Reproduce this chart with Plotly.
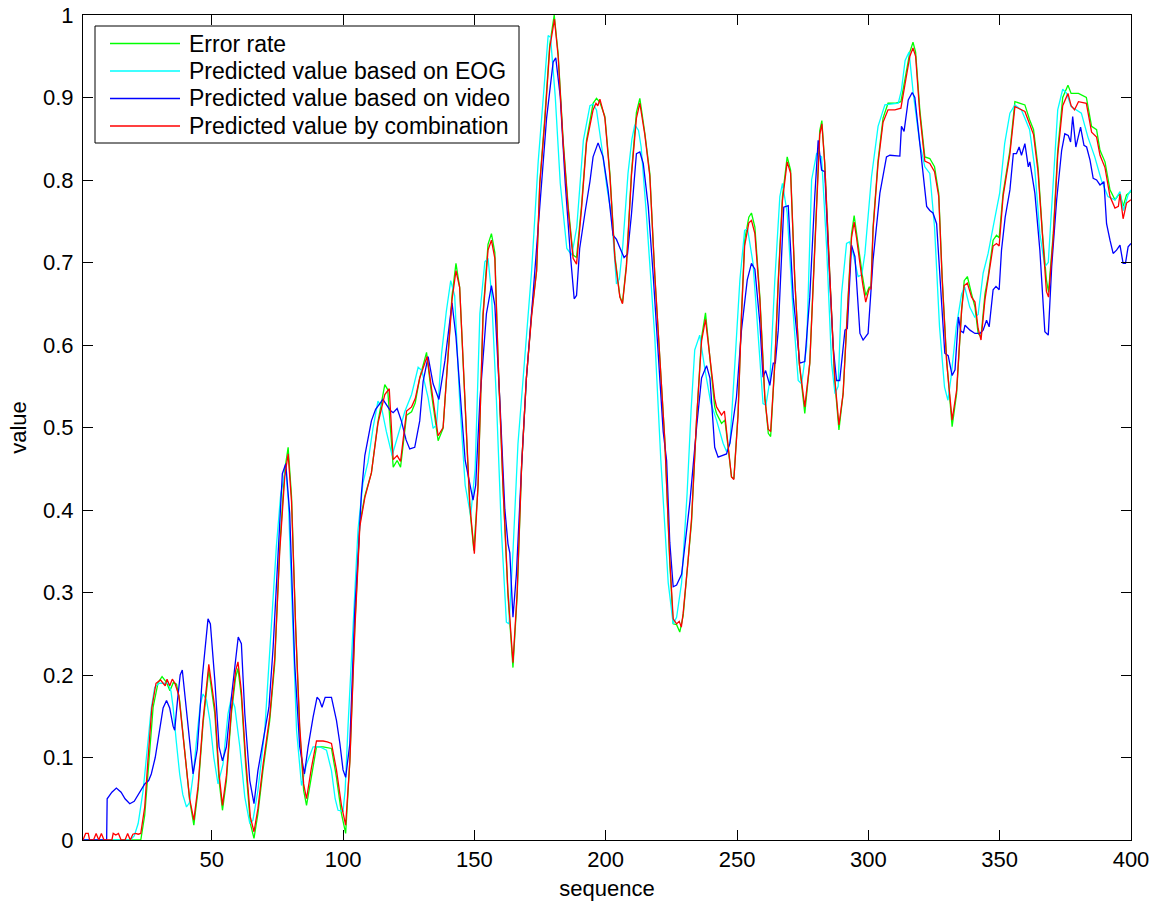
import plotly.graph_objects as go

# ---------------- data ----------------
# Error rate (green)
err_x = [1, 23, 24.5, 25.8, 27.7, 29.6, 31.1, 32.8, 34.1, 35.4, 36.6, 37.8, 39.7, 41.6, 43.2, 44.8, 46.7, 48.9,
         51.2, 52.8, 54.1, 55.6, 57.5, 59.1, 60, 61.3, 62.9, 64.7, 66.1, 67.6, 69.5, 72.1, 74, 75.9, 77.8, 79.1,
         80.4, 82, 83.5, 85, 86.1, 88, 89.9, 92.4, 95.6, 97.5, 99.4, 101, 102.6, 104.5, 106.4, 108.3, 110.8,
         113.3, 115.9, 117, 119.1, 120.6, 121.9, 124.2, 126.1, 127.5, 129.2, 131.8, 133.7, 136.2, 138.1, 140,
         141.5, 143, 144.4, 146.4, 148.3, 149.8, 151.4, 153.3, 155.2, 156.5, 157.8, 159, 160.9, 162.8, 164.7,
         166.3, 168, 169.8, 171.8, 173.7, 174.9, 176.8, 178.7, 180.4, 181.9, 183.8, 185.7, 187.6, 188.9, 190.8,
         192.7, 195.2, 196.5, 197.8, 199.7, 201.6, 203.5, 205.4, 206.4, 207.9, 209.8, 211.7, 213, 214.9, 216.8,
         218.7, 220.6, 222.5, 224.4, 225.7, 227, 228.2, 229.5, 231.4, 232.7, 234.6, 236.5, 238, 239.7, 241.5,
         242.2, 244.1, 245.4, 246.6, 247.9, 248.8, 250.4, 251.7, 252.9, 254.5, 255.5, 256.8, 258.7, 260.6,
         261.9, 262.8, 264.4, 265.7, 267.3, 269.1, 270.4, 272, 273.7, 275.8, 277.7, 279.6, 281.5, 282.3, 283.4,
         285.4, 287.2, 288.8, 290.4, 291.7, 293.6, 294.6, 295.5, 297.8, 299, 300.3, 301, 301.8, 303.7, 305.6,
         307.5, 310.1, 312.4, 313.9, 315.8, 317, 318, 319.6, 321.5, 323.4, 325.2, 326.8, 328.1, 329.8, 331.9,
         333.6, 335.5, 336.5, 337.7, 339.3, 340.6, 341.8, 342.9, 344.4, 345.6, 347.5, 348.8, 349.8, 351.3,
         353.9, 355.8, 359.6, 361.4, 362.9, 364.6, 366.3, 367.8, 368.6, 370.4, 372.1, 374, 376, 377.2, 380,
         383, 385, 386.9, 388.2, 390.1, 392, 393.9, 395.8, 397, 398.3, 400]
err_y = [0, 0, 0.03, 0.08, 0.161, 0.191, 0.198, 0.191, 0.181, 0.191, 0.189, 0.169, 0.109, 0.048, 0.018, 0.06,
         0.141, 0.206, 0.153, 0.072, 0.036, 0.072, 0.153, 0.197, 0.208, 0.173, 0.092, 0.02, 0.002, 0.032, 0.084,
         0.145, 0.214, 0.355, 0.448, 0.476, 0.416, 0.254, 0.133, 0.06, 0.042, 0.08, 0.113, 0.113, 0.111, 0.076,
         0.032, 0.008, 0.097, 0.261, 0.384, 0.417, 0.445, 0.507, 0.552, 0.546, 0.452, 0.46, 0.452, 0.515, 0.519,
         0.53, 0.56, 0.591, 0.54, 0.484, 0.499, 0.589, 0.66, 0.699, 0.67, 0.533, 0.401, 0.351, 0.428, 0.638,
         0.722, 0.735, 0.712, 0.585, 0.428, 0.296, 0.209, 0.296, 0.454, 0.559, 0.638, 0.69, 0.796, 0.875, 0.964,
         1.0, 0.953, 0.848, 0.769, 0.709, 0.706, 0.769, 0.848, 0.893, 0.899, 0.894, 0.877, 0.808, 0.708, 0.659,
         0.651, 0.698, 0.808, 0.882, 0.899, 0.857, 0.808, 0.684, 0.585, 0.485, 0.336, 0.262, 0.261, 0.252, 0.272,
         0.336, 0.386, 0.51, 0.609, 0.639, 0.585, 0.525, 0.517, 0.505, 0.509, 0.472, 0.44, 0.438, 0.517, 0.638,
         0.727, 0.755, 0.76, 0.743, 0.658, 0.537, 0.493, 0.489, 0.578, 0.679, 0.78, 0.828, 0.812, 0.679, 0.578,
         0.517, 0.578, 0.719, 0.86, 0.872, 0.82, 0.679, 0.557, 0.497, 0.541, 0.622, 0.735, 0.757, 0.735, 0.683,
         0.66, 0.67, 0.67, 0.743, 0.824, 0.875, 0.893, 0.893, 0.895, 0.921, 0.955, 0.967, 0.955, 0.885, 0.828,
         0.826, 0.816, 0.784, 0.683, 0.582, 0.501, 0.541, 0.642, 0.678, 0.683, 0.662, 0.646, 0.614, 0.61, 0.662,
         0.683, 0.727, 0.733, 0.73, 0.784, 0.836, 0.895, 0.891, 0.873, 0.861, 0.816, 0.735, 0.679, 0.664, 0.735,
         0.836, 0.9, 0.915, 0.905, 0.905, 0.9, 0.865, 0.861, 0.836, 0.822, 0.788, 0.776, 0.784, 0.768, 0.782,
         0.786]

# Predicted value based on EOG (cyan)
eog_x = [1, 19, 20.5, 22, 23.9, 25.8, 27, 28.3, 30, 32, 33.5, 34.5, 35.3, 36.5, 37.8, 39, 40.4, 41.5, 43, 44.5,
         45.7, 46.7, 48, 49.3, 50.8, 52.4, 54.3, 56.2, 57.5, 58.8, 60.7, 62.6, 64.5, 65.7, 67.6, 70.2, 72.7,
         74.6, 76.3, 77.4, 78.2, 79.2, 80.4, 82.3, 84.2, 86.1, 88.6, 91.1, 93.7, 95.6, 97, 98.1, 100, 100.8,
         101.9, 103.8, 105.7, 107.6, 109.5, 111.4, 113.3, 114.6, 116.5, 118.7, 121, 123.5, 126.1, 128.6, 130,
         132.4, 134.3, 135.6, 137.5, 139.3, 141, 142.5, 144.4, 146.5, 148.6, 150.3, 152.1, 154, 155.2, 156.5,
         158.4, 160.3, 162.2, 163.2, 164.7, 166.6, 169.2, 171.8, 174.3, 176.8, 178.1, 179, 180.8, 182.7, 185.2,
         187.1, 189, 191.5, 194, 195.2, 196.5, 198.5, 200.5, 202.2, 204.1, 205.2, 206.5, 208.5, 210, 211.1,
         212.5, 213.5, 215.5, 218.7, 221, 223.8, 225.7, 227, 228.9, 231, 232.5, 233.9, 235.8, 237.8, 240, 242.2,
         244.7, 246, 247.3, 249.2, 251.1, 252.9, 254, 256.1, 258, 259.9, 261, 262.5, 264.4, 266.3, 267.3, 269.1,
         271.4, 273.3, 274.6, 276.5, 278.4, 280.3, 282.2, 284.1, 286, 287.3, 288.5, 289.8, 291.7, 292.8, 294.2,
         296.1, 297.5, 298.7, 301.2, 303.7, 306.3, 311.4, 312.6, 314, 315.5, 316.3, 317.1, 319.6, 321.5, 323.4,
         325.2, 327.1, 329, 330.3, 331.5, 333.5, 335.5, 336.7, 338.6, 340.5, 341.8, 343.7, 345.6, 347.5, 350,
         351.9, 353.9, 355.8, 358.3, 361.4, 363.3, 365.3, 367.2, 368.5, 370.4, 372.1, 374, 375.5, 377.2, 381.1,
         383.6, 386.2, 388.7, 391.2, 393.9, 395.8, 397.1, 398.9, 400]
eog_y = [0, 0, 0.005, 0.02, 0.06, 0.12, 0.16, 0.185, 0.19, 0.19, 0.19, 0.18, 0.161, 0.12, 0.08, 0.055, 0.04,
         0.045, 0.08, 0.13, 0.165, 0.177, 0.17, 0.145, 0.1, 0.068, 0.092, 0.153, 0.173, 0.161, 0.113, 0.052,
         0.02, 0.024, 0.06, 0.133, 0.254, 0.355, 0.42, 0.436, 0.45, 0.41, 0.294, 0.133, 0.066, 0.092, 0.113,
         0.113, 0.109, 0.084, 0.05, 0.036, 0.035, 0.06, 0.138, 0.261, 0.376, 0.433, 0.458, 0.499, 0.532, 0.525,
         0.495, 0.466, 0.491, 0.519, 0.54, 0.573, 0.569, 0.536, 0.499, 0.503, 0.589, 0.64, 0.678, 0.66, 0.533,
         0.43, 0.393, 0.45, 0.638, 0.701, 0.705, 0.664, 0.533, 0.375, 0.264, 0.262, 0.349, 0.48, 0.585, 0.69,
         0.822, 0.927, 0.975, 0.973, 0.901, 0.796, 0.717, 0.709, 0.743, 0.848, 0.89, 0.892, 0.885, 0.84, 0.79,
         0.758, 0.674, 0.68, 0.72, 0.808, 0.85, 0.867, 0.86, 0.84, 0.758, 0.609, 0.46, 0.312, 0.262, 0.27, 0.312,
         0.42, 0.52, 0.594, 0.612, 0.57, 0.53, 0.509, 0.481, 0.471, 0.481, 0.578, 0.679, 0.739, 0.741, 0.699,
         0.618, 0.529, 0.527, 0.557, 0.679, 0.78, 0.796, 0.76, 0.638, 0.557, 0.553, 0.598, 0.8, 0.832, 0.828,
         0.719, 0.578, 0.541, 0.55, 0.662, 0.723, 0.725, 0.711, 0.683, 0.685, 0.711, 0.804, 0.865, 0.891, 0.893,
         0.909, 0.945, 0.955, 0.93, 0.905, 0.844, 0.816, 0.808, 0.743, 0.622, 0.549, 0.533, 0.561, 0.622, 0.662,
         0.67, 0.646, 0.634, 0.637, 0.687, 0.711, 0.743, 0.784, 0.844, 0.881, 0.891, 0.885, 0.861, 0.816, 0.735,
         0.695, 0.7, 0.796, 0.885, 0.91, 0.905, 0.889, 0.881, 0.852, 0.828, 0.8, 0.78, 0.776, 0.786, 0.763, 0.782,
         0.788]

# Predicted value based on video (blue)
video_x = [1, 10, 10.2, 12, 13.7, 15.5, 17, 18.8, 20.5, 22.5, 24.5, 26, 27, 28.5, 30, 31.5, 32.8, 34, 35.3, 35.9,
           37, 38, 38.8, 40, 41.5, 42.9, 44.5, 46.5, 48.6, 49.5, 51.2, 52.8, 54.1, 55.6, 57.5, 58.8, 60.1, 61.3,
           62.6, 64.5, 66.1, 67.6, 69.5, 71.8, 73.4, 75.3, 76.9, 78.2, 79.7, 81.6, 83.5, 85.3, 86.7, 88.6, 90.1,
           91, 92, 93.2, 95.6, 97.5, 98.8, 100, 101, 102.6, 103.5, 104.5, 105.7, 107, 108.3, 110.8, 112.4, 115.2,
           117.9, 119.1, 120.6, 122.2, 124, 125.4, 127.3, 129.2, 130.5, 132.4, 134.3, 136.5, 138.8, 140.7, 141.5,
           143, 144.4, 146.5, 149.5, 150.5, 152.1, 154.6, 156.5, 157.8, 159.7, 161.6, 162.8, 163.5, 164.7, 166,
           168, 169.8, 172.4, 174.9, 177.5, 180, 181, 182.7, 184.6, 186.5, 188, 188.9, 190.1, 192.1, 194, 195.2,
           197.1, 199, 200.9, 202.8, 204.1, 205.4, 207, 208.3, 209.8, 211.7, 213, 214.3, 216.2, 218.1, 220, 221.9,
           223.2, 224.4, 225.7, 227, 228.9, 230.2, 232.1, 234.6, 236.5, 238.4, 239.7, 241.5, 242.8, 246, 247.3,
           249.8, 251.7, 253.9, 255.5, 256.8, 258.7, 259.9, 260.9, 262.5, 263.8, 264.6, 265.7, 267.8, 269.5,
           271.4, 273.9, 275.8, 277.7, 279.6, 280.9, 282.2, 283.4, 284.7, 286.6, 287.9, 289.1, 291.1, 292, 293.6,
           294.9, 296.8, 298, 299.9, 301.8, 304.4, 306.9, 308.2, 312, 312.6, 313.6, 315.2, 316.7, 317.7, 319.6,
           320.9, 322.2, 323.4, 324.6, 326, 327.6, 329.1, 330.4, 331.9, 333, 334.3, 335.2, 336.2, 336.8, 338.7,
           340.6, 342.5, 343.7, 345, 346, 347.5, 348.6, 349.8, 350.7, 352.1, 353.9, 355.2, 356.4, 357.4, 358.3,
           359.6, 360.9, 361.5, 363.4, 365.3, 367.2, 368.5, 369.8, 371.7, 373.6, 374.8, 376.1, 377, 377.8, 379,
           379.9, 380.8, 382.1, 383.1, 384.4, 385.6, 386.9, 388.2, 389.7, 390.7, 392, 393.2, 394.5, 395.8, 397,
           397.9, 398.9, 400]
video_y = [0, 0, 0.05, 0.058, 0.063, 0.058, 0.05, 0.044, 0.047, 0.058, 0.068, 0.072, 0.08, 0.1, 0.13, 0.16,
           0.169, 0.16, 0.138, 0.133, 0.17, 0.2, 0.206, 0.17, 0.12, 0.08, 0.11, 0.2, 0.268, 0.262, 0.193, 0.113,
           0.096, 0.113, 0.173, 0.214, 0.246, 0.238, 0.153, 0.072, 0.044, 0.084, 0.121, 0.161, 0.234, 0.355, 0.444,
           0.456, 0.396, 0.214, 0.113, 0.08, 0.113, 0.149, 0.173, 0.17, 0.161, 0.173, 0.173, 0.145, 0.117, 0.085,
           0.076, 0.117, 0.2, 0.28, 0.343, 0.42, 0.466, 0.508, 0.522, 0.534, 0.521, 0.518, 0.523, 0.508, 0.485,
           0.474, 0.476, 0.508, 0.556, 0.586, 0.553, 0.534, 0.581, 0.635, 0.651, 0.61, 0.55, 0.46, 0.412, 0.43,
           0.533, 0.638, 0.672, 0.648, 0.533, 0.401, 0.359, 0.348, 0.27, 0.322, 0.454, 0.559, 0.664, 0.769, 0.875,
           0.943, 0.948, 0.901, 0.796, 0.712, 0.656, 0.66, 0.717, 0.76, 0.798, 0.828, 0.845, 0.828, 0.788, 0.733,
           0.728, 0.718, 0.706, 0.71, 0.758, 0.832, 0.834, 0.82, 0.768, 0.684, 0.585, 0.495, 0.46, 0.361, 0.307,
           0.309, 0.322, 0.361, 0.411, 0.5, 0.56, 0.575, 0.56, 0.476, 0.464, 0.468, 0.481, 0.537, 0.618, 0.679,
           0.699, 0.692, 0.626, 0.561, 0.569, 0.551, 0.578, 0.578, 0.618, 0.767, 0.769, 0.658, 0.578, 0.58, 0.658,
           0.78, 0.848, 0.812, 0.81, 0.719, 0.598, 0.557, 0.557, 0.618, 0.62, 0.721, 0.707, 0.614, 0.606, 0.614,
           0.703, 0.784, 0.828, 0.83, 0.829, 0.865, 0.859, 0.897, 0.906, 0.9, 0.844, 0.804, 0.768, 0.763, 0.76,
           0.747, 0.662, 0.59, 0.587, 0.563, 0.57, 0.634, 0.617, 0.615, 0.624, 0.618, 0.614, 0.614, 0.618, 0.63,
           0.622, 0.667, 0.671, 0.667, 0.715, 0.755, 0.788, 0.832, 0.832, 0.84, 0.83, 0.844, 0.816, 0.822, 0.784,
           0.715, 0.616, 0.612, 0.695, 0.776, 0.836, 0.856, 0.854, 0.846, 0.877, 0.84, 0.852, 0.864, 0.842, 0.84,
           0.824, 0.802, 0.8, 0.794, 0.798, 0.747, 0.727, 0.711, 0.715, 0.721, 0.699, 0.699, 0.719, 0.723]

# Predicted value by combination (red)
comb_x = [1, 2, 3, 3.5, 5, 6, 7, 8, 9, 12, 12.5, 13.5, 14.5, 15.5, 17, 18, 19, 20, 21, 22, 23, 24.5, 25.8, 27.2,
          28.8, 30.5, 31.5, 32.3, 33, 34, 35, 36, 37.5, 39.7, 41.6, 43.2, 44.8, 46.7, 48.9, 51.2, 52.8, 54.1,
          55.6, 57.5, 59.1, 60, 61.3, 62.9, 64.7, 66.1, 67.6, 69.5, 72.1, 74, 75.9, 77.8, 79.1, 80.4, 82, 83.5,
          85, 86.1, 88, 89.9, 92.4, 94, 95.6, 97.5, 99.4, 101, 102.6, 104.5, 106.4, 108.3, 110.8, 113.3, 115.9,
          117.6, 119.1, 120.6, 121.9, 124.2, 126.1, 127.5, 129.2, 132, 133.7, 136.2, 138.1, 140, 141.5, 143,
          144.4, 146.4, 148.3, 150, 151.4, 153.3, 155.2, 156.5, 157.8, 159, 160.9, 162.8, 164.7, 166.3, 168,
          169.8, 171.8, 173.7, 174.9, 176.8, 178.7, 180.5, 181.9, 183.8, 185.7, 187.6, 188.9, 190.8, 192.7,
          195.2, 196.3, 197, 197.8, 199.7, 201.6, 203.5, 205.4, 206.4, 207.9, 209.8, 211.7, 213, 214.9, 216.8,
          218.7, 220.6, 222.5, 224.4, 225.7, 227, 228, 228.8, 229.5, 231.4, 232.7, 234.6, 236.5, 238, 239.7,
          241.5, 242.2, 244.1, 245.2, 246.6, 247.9, 248.8, 250.4, 251.7, 252.9, 254.5, 255.5, 256.8, 258.7,
          260.6, 261.9, 262.8, 264.4, 265.7, 267.3, 269.1, 270.4, 272, 273.7, 275.8, 277.7, 279.6, 281.5, 282.3,
          283.4, 285.4, 287.2, 288.8, 290.4, 291.7, 293.6, 294.6, 295.5, 297.8, 299, 300.3, 301, 301.8, 303.7,
          305.6, 307.5, 310.1, 312.4, 313.9, 315.8, 317, 318, 319.6, 321.5, 323.4, 325.2, 326.8, 328.1, 329.8,
          331.9, 333.6, 335.5, 336.5, 337.7, 339.3, 340.6, 341.8, 342.9, 344.4, 345.6, 347.5, 348.8, 349.8,
          351.3, 353.9, 355.8, 359.6, 361.4, 362.9, 364.6, 366.3, 367.8, 368.6, 370.4, 372.1, 374, 376, 377.2,
          378.5, 380, 383, 385, 386.9, 388.2, 390.1, 392, 393.9, 395.2, 395.8, 397, 398.3, 400]
comb_y = [0, 0.008, 0.008, 0, 0, 0.008, 0, 0.008, 0, 0, 0.008, 0.006, 0.008, 0, 0, 0.008, 0, 0.007, 0.008, 0.007,
          0.008, 0.04, 0.1, 0.16, 0.19, 0.194, 0.19, 0.187, 0.195, 0.187, 0.195, 0.19, 0.175, 0.11, 0.05, 0.024,
          0.065, 0.145, 0.213, 0.16, 0.08, 0.042, 0.078, 0.158, 0.205, 0.216, 0.18, 0.1, 0.028, 0.01, 0.038, 0.09,
          0.15, 0.22, 0.35, 0.44, 0.468, 0.41, 0.255, 0.138, 0.068, 0.05, 0.088, 0.12, 0.12, 0.119, 0.117, 0.085,
          0.042, 0.018, 0.095, 0.255, 0.38, 0.415, 0.445, 0.505, 0.54, 0.547, 0.461, 0.466, 0.459, 0.52, 0.525,
          0.535, 0.56, 0.586, 0.545, 0.49, 0.5, 0.585, 0.655, 0.69, 0.67, 0.535, 0.405, 0.347, 0.43, 0.635, 0.715,
          0.727, 0.705, 0.585, 0.43, 0.3, 0.215, 0.3, 0.455, 0.56, 0.635, 0.69, 0.795, 0.87, 0.96, 0.995, 0.95,
          0.845, 0.765, 0.705, 0.698, 0.765, 0.845, 0.885, 0.893, 0.89, 0.898, 0.875, 0.805, 0.705, 0.658, 0.65,
          0.695, 0.805, 0.875, 0.893, 0.855, 0.805, 0.685, 0.585, 0.485, 0.34, 0.268, 0.262, 0.265, 0.258, 0.275,
          0.34, 0.39, 0.51, 0.605, 0.631, 0.585, 0.535, 0.525, 0.515, 0.52, 0.48, 0.44, 0.437, 0.515, 0.635, 0.72,
          0.748, 0.751, 0.735, 0.655, 0.535, 0.498, 0.495, 0.578, 0.675, 0.775, 0.822, 0.808, 0.679, 0.578, 0.525,
          0.578, 0.715, 0.855, 0.868, 0.82, 0.679, 0.56, 0.503, 0.541, 0.62, 0.73, 0.749, 0.73, 0.675, 0.652,
          0.668, 0.668, 0.74, 0.82, 0.87, 0.885, 0.885, 0.887, 0.915, 0.95, 0.96, 0.95, 0.88, 0.823, 0.82, 0.81,
          0.78, 0.68, 0.58, 0.509, 0.545, 0.642, 0.672, 0.675, 0.658, 0.652, 0.62, 0.606, 0.655, 0.678, 0.72,
          0.723, 0.72, 0.78, 0.832, 0.889, 0.883, 0.868, 0.855, 0.81, 0.73, 0.665, 0.658, 0.73, 0.83, 0.89, 0.905,
          0.89, 0.885, 0.895, 0.893, 0.858, 0.852, 0.83, 0.815, 0.78, 0.766, 0.768, 0.783, 0.753, 0.772, 0.776]

series_names = ["Error rate", "Predicted value based on EOG",
                "Predicted value based on video", "Predicted value by combination"]
series_colors = ["#00ff00", "#00ffff", "#0000ff", "#ff0000"]

x_tick_vals = [50, 100, 150, 200, 250, 300, 350, 400]
y_tick_vals = [0, 0.1, 0.2, 0.3, 0.4, 0.5, 0.6, 0.7, 0.8, 0.9, 1]
y_tick_text = ["0", "0.1", "0.2", "0.3", "0.4", "0.5", "0.6", "0.7", "0.8", "0.9", "1"]

FONT = "Liberation Sans, Arial, Helvetica, sans-serif"

# figure geometry (pixels)
W, H = 1163, 903
ML, MR, MT, MB = 83, 32, 15, 63
PW, PH = W - ML - MR, H - MT - MB


def px_x(p):
    return (p - ML) / PW


def px_y(p):
    return 1 - (p - MT) / PH


fig = go.Figure()
for xs, ys, name, col in zip([err_x, eog_x, video_x, comb_x],
                             [err_y, eog_y, video_y, comb_y],
                             series_names, series_colors):
    fig.add_trace(go.Scatter(x=xs, y=ys, mode="lines", name=name, showlegend=False,
                             line=dict(color=col, width=1.3)))

axis_common = dict(showline=True, linecolor="black", linewidth=1, mirror="allticks",
                   ticks="inside", ticklen=10, tickwidth=1, tickcolor="black",
                   showgrid=False, zeroline=False, automargin=False,
                   tickfont=dict(family=FONT, size=22, color="black"))

fig.update_xaxes(range=[1, 400], tickvals=x_tick_vals,
                 title=dict(text="sequence", font=dict(family=FONT, size=22, color="black"), standoff=9),
                 **axis_common)
fig.update_yaxes(range=[0, 1], tickvals=y_tick_vals, ticktext=y_tick_text,
                 ticklabelstandoff=4,
                 title=dict(text="value", font=dict(family=FONT, size=22, color="black"), standoff=10),
                 **axis_common)

# legend box drawn in MATLAB style (long sample lines, tight rows)
LEG_LEFT, LEG_RIGHT, LEG_TOP, LEG_BOTTOM = 95, 519, 26, 143
ROW0, ROW_STEP = 43.5, 27.5
LINE_X0, LINE_X1, TEXT_X = 110, 180, 187
shapes = [dict(type="rect", xref="paper", yref="paper",
               x0=px_x(LEG_LEFT), x1=px_x(LEG_RIGHT), y0=px_y(LEG_BOTTOM), y1=px_y(LEG_TOP),
               line=dict(color="black", width=1), fillcolor="white", layer="above")]
annotations = []
for i, (name, col) in enumerate(zip(series_names, series_colors)):
    yy = px_y(ROW0 + i * ROW_STEP)
    shapes.append(dict(type="line", xref="paper", yref="paper",
                       x0=px_x(LINE_X0), x1=px_x(LINE_X1), y0=yy, y1=yy,
                       line=dict(color=col, width=1.3), layer="above"))
    annotations.append(dict(text=name, xref="paper", yref="paper", x=px_x(TEXT_X), y=yy,
                            xanchor="left", yanchor="middle", showarrow=False,
                            font=dict(family=FONT, size=23, color="black")))

fig.update_layout(
    width=W, height=H,
    margin=dict(l=ML, r=MR, t=MT, b=MB, autoexpand=False),
    paper_bgcolor="white", plot_bgcolor="white",
    font=dict(family=FONT, size=22, color="black"),
    showlegend=False,
    shapes=shapes,
    annotations=annotations,
)

fig.write_html("out.html")
